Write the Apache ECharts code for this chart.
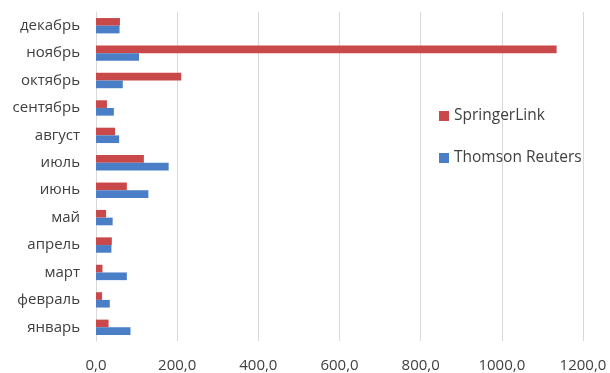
<!DOCTYPE html>
<html><head><meta charset="utf-8">
<script src="https://cdn.jsdelivr.net/npm/echarts@6/dist/echarts.min.js"></script>
<style>html,body{margin:0;padding:0;background:#fff}#c{width:610px;height:373px}</style>
</head><body><div id="c"></div>
<script>
const categories = ['январь','февраль','март','апрель','май','июнь','июль','август','сентябрь','октябрь','ноябрь','декабрь'];
const springerLink = [31, 15, 16, 39, 25, 76, 118, 47, 27, 210, 1135, 59];
const thomsonReuters = [85, 34, 76, 38, 41, 129, 179, 57, 44, 66, 106, 58];
const seriesNames = ['SpringerLink', 'Thomson Reuters'];

const chart = echarts.init(document.getElementById('c'));
const font = '"Open Sans", "Liberation Sans", sans-serif';
chart.setOption({
  animation: false,
  grid: { left: 96, right: 27, top: 12, bottom: 31, containLabel: false },
  legend: {
    orient: 'vertical', left: 434, top: 103, itemGap: 26,
    itemWidth: 10, itemHeight: 10, icon: 'rect',
    textStyle: { fontFamily: font, fontSize: 15.5, color: '#404040' },
    data: seriesNames
  },
  xAxis: {
    type: 'value', min: 0, max: 1200, interval: 200,
    axisLine: { show: false }, axisTick: { show: false },
    splitLine: { lineStyle: { color: '#d9d9d9' } },
    axisLabel: { fontFamily: font, fontSize: 15, color: '#404040', margin: 17,
      formatter: v => v.toFixed(1).replace('.', ',') }
  },
  yAxis: {
    type: 'category', data: categories,
    axisLine: { show: true, lineStyle: { color: '#d9d9d9' } },
    axisTick: { show: false },
    axisLabel: { fontFamily: font, fontSize: 15, color: '#404040', margin: 16 }
  },
  series: [
    { name: seriesNames[0], type: 'bar', data: springerLink, barGap: '0%', barCategoryGap: '44%',
      itemStyle: { color: '#C9494B' } },
    { name: seriesNames[1], type: 'bar', data: thomsonReuters, barGap: '0%', barCategoryGap: '44%',
      itemStyle: { color: '#4A7EC6' } }
  ]
});
</script></body></html>
